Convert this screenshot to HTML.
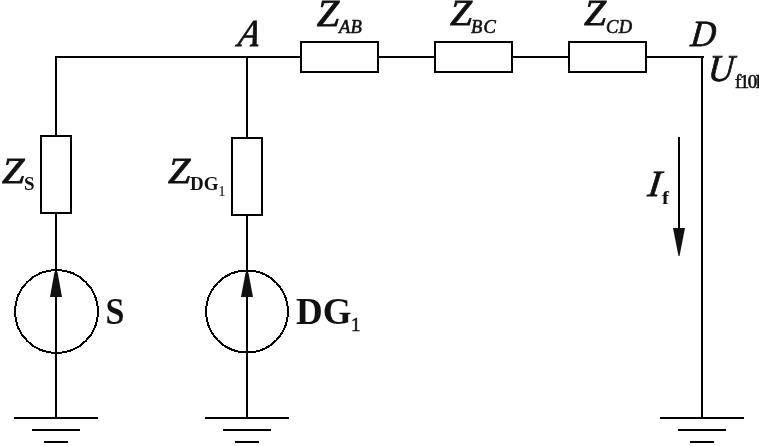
<!DOCTYPE html>
<html><head><meta charset="utf-8">
<style>
html,body{margin:0;padding:0;background:#fff;width:759px;height:446px;overflow:hidden}
svg{display:block;filter:grayscale(1)}
text{font-family:"Liberation Serif",serif;fill:#111}
.i{font-style:italic}
.b{font-weight:bold}
.m{stroke:#111;stroke-width:0.8}
.s{stroke:#111;stroke-width:0.6}
.t{stroke:#111;stroke-width:0.6}
</style></head><body>
<svg width="759" height="446" viewBox="0 0 759 446">
<g fill="none" stroke="#000" stroke-width="2" stroke-linejoin="miter" stroke-linecap="butt">
  <!-- main wire loop -->
  <path d="M56,418 V57 H702 V418"/>
  <path d="M701,57 H704"/>
  <path d="M247,57 V418"/>
  <path d="M679,137 V229"/>
  <!-- grounds -->
  <path d="M14,418 H98 M32,430 H80 M44,442 H68"/>
  <path d="M205,418 H289 M223,430 H271 M235,442 H259"/>
  <path d="M660,418 H744 M678,430 H726 M690,442 H714"/>
</g>
<g fill="#fff" stroke="#000" stroke-width="2">
  <rect x="41" y="136" width="30" height="77"/>
  <rect x="232" y="138" width="30" height="77"/>
  <rect x="301" y="42" width="77" height="30"/>
  <rect x="435" y="42" width="77" height="30"/>
  <rect x="569" y="42" width="77" height="30"/>
</g>
<g fill="none" stroke="#000" stroke-width="2" shape-rendering="crispEdges">
  <circle cx="56.5" cy="311.5" r="41.5"/>
  <circle cx="247" cy="311.5" r="41"/>
</g>
<g fill="#111" stroke="none">
  <path d="M50,297 L62,297 L57.5,272 L54.5,272 Z"/>
  <path d="M241,297 L253,297 L248.5,273 L245.5,273 Z"/>
  <path d="M673,228 L685,228 L679.5,256 L678.5,256 Z"/>
</g>
<g>
  <text class="i m" transform="translate(237,46) skewX(-11) scale(0.9,1)" font-size="38">A</text>
  <text class="i m" transform="translate(316.8,26) scale(1.09,1)" font-size="37">Z</text>
  <text class="i s" x="339" y="32.6" font-size="18.5" letter-spacing="0.3">AB</text>
  <text class="i m" transform="translate(450,25) scale(1.1,1)" font-size="36">Z</text>
  <text class="i s" x="471" y="32.6" font-size="18.5" letter-spacing="1.2">BC</text>
  <text class="i m" transform="translate(584,25) scale(1.1,1)" font-size="36">Z</text>
  <text class="i s" x="606" y="32.6" font-size="18.5" letter-spacing="0.3">CD</text>
  <text class="i m" transform="translate(690,46) skewX(-6) scale(0.93,1)" font-size="37">D</text>
  <text class="i m" transform="translate(707.5,81) skewX(-5) scale(0.93,1)" font-size="38">U</text>
  <text class="t" x="735" y="88" font-size="19" letter-spacing="-1.5">f10l</text>
  <text class="i m" transform="translate(2,182.7) scale(1.12,1)" font-size="36">Z</text>
  <text class="b" x="24" y="190" font-size="19">S</text>
  <text class="i m" transform="translate(168,182.7) scale(1.12,1)" font-size="36">Z</text>
  <text class="b" x="190" y="190" font-size="19">DG</text>
  <text x="218" y="195.5" font-size="15.5">1</text>
  <text class="b" transform="translate(105.5,324) scale(0.92,1)" font-size="37">S</text>
  <text class="b" x="296" y="324" font-size="37">DG</text>
  <text class="t" x="351" y="331" font-size="19">1</text>
  <text class="i m" transform="translate(647,196) skewX(-7) scale(1.03,1)" font-size="37">I</text>
  <text class="b" transform="translate(662,203.6) scale(1.1,1)" font-size="19">f</text>
</g>
</svg>
</body></html>
